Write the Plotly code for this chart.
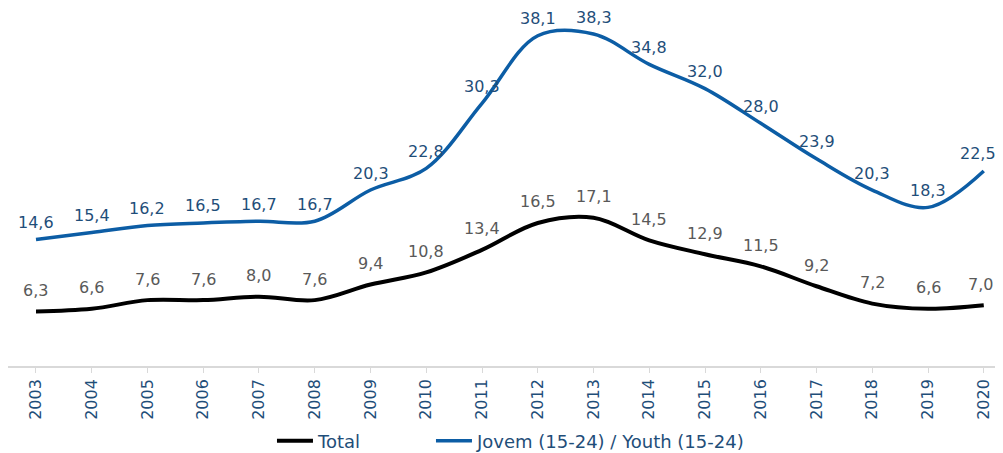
import plotly.graph_objects as go

years = [str(y) for y in range(2003, 2021)]
total = [6.3, 6.6, 7.6, 7.6, 8.0, 7.6, 9.4, 10.8, 13.4, 16.5, 17.1, 14.5, 12.9, 11.5, 9.2, 7.2, 6.6, 7.0]
youth = [14.6, 15.4, 16.2, 16.5, 16.7, 16.7, 20.3, 22.8, 30.3, 38.1, 38.3, 34.8, 32.0, 28.0, 23.9, 20.3, 18.3, 22.5]

FONT = "DejaVu Sans, Verdana, sans-serif"
BLUE_LINE = "#0C5DA5"
BLUE_TEXT = "#1F4E79"
GRAY_TEXT = "#595959"

xnum = list(range(2003, 2021))

fig = go.Figure()
fig.add_trace(go.Scatter(x=xnum, y=total, mode="lines", name="Total", legend="legend",
                         line=dict(color="#000000", width=4, shape="spline", smoothing=1.0)))
fig.add_trace(go.Scatter(x=xnum, y=youth, mode="lines", name="Jovem (15-24) / Youth (15-24)",
                         legend="legend2",
                         line=dict(color=BLUE_LINE, width=3.5, shape="spline", smoothing=1.0)))

def fmt(v):
    return f"{v:.1f}".replace(".", ",")

last = len(xnum) - 1
for i, (xv, v) in enumerate(zip(xnum, youth)):
    fig.add_annotation(x=xv, y=v, text=fmt(v), showarrow=False, yshift=17,
                       xshift=-6 if i == last else 0,
                       font=dict(family=FONT, size=16, color=BLUE_TEXT))
for i, (xv, v) in enumerate(zip(xnum, total)):
    fig.add_annotation(x=xv, y=v, text=fmt(v), showarrow=False, yshift=21,
                       xshift=-3 if i == last else 0,
                       font=dict(family=FONT, size=16, color=GRAY_TEXT))

leg_common = dict(orientation="h", xanchor="left", y=-0.2095, yanchor="middle",
                  font=dict(family=FONT, size=18, color=BLUE_TEXT), itemwidth=36,
                  bgcolor="rgba(0,0,0,0)")

fig.update_layout(
    width=995, height=445,
    margin=dict(l=0, r=0, t=0, b=87, autoexpand=False),
    paper_bgcolor="white", plot_bgcolor="white",
    font=dict(family=FONT, size=16, color=BLUE_TEXT),
    showlegend=True,
    legend=dict(x=0.2653, **leg_common),
    legend2=dict(x=0.4251, **leg_common),
    xaxis=dict(range=[2002.498, 2020.345], tickmode="array", tickvals=xnum, ticktext=years,
               tickangle=-90, showgrid=False, zeroline=False, showline=True, automargin=False,
               linecolor="#D9D9D9", linewidth=1.5, ticks="outside", ticklen=5,
               tickcolor="#D9D9D9", tickfont=dict(family=FONT, size=16, color=BLUE_TEXT)),
    yaxis=dict(range=[0, 41.3], visible=False, showgrid=False, zeroline=False, automargin=False),
)

fig.write_html("out.html")
